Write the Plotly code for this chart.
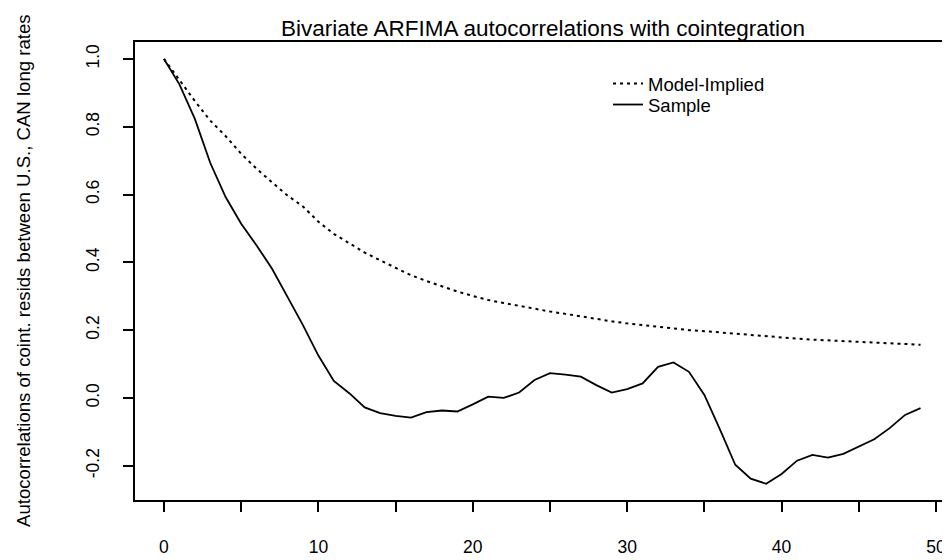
import plotly.graph_objects as go

lags = list(range(50))
model_implied = [1.0, 0.937, 0.876, 0.818, 0.772, 0.720, 0.676, 0.636, 0.597, 0.565,
                 0.520, 0.484, 0.457, 0.429, 0.406, 0.383, 0.362, 0.345, 0.329, 0.314,
                 0.301, 0.289, 0.280, 0.271, 0.264, 0.255, 0.248, 0.240, 0.232, 0.226,
                 0.220, 0.215, 0.209, 0.204, 0.200, 0.197, 0.193, 0.189, 0.185, 0.181,
                 0.178, 0.175, 0.172, 0.170, 0.167, 0.165, 0.163, 0.161, 0.159, 0.157]
sample = [1.0, 0.925, 0.823, 0.693, 0.592, 0.514, 0.450, 0.381, 0.298, 0.215,
          0.125, 0.050, 0.014, -0.028, -0.045, -0.053, -0.058, -0.042, -0.037, -0.040,
          -0.019, 0.004, 0.000, 0.016, 0.053, 0.073, 0.069, 0.063, 0.038, 0.016,
          0.026, 0.043, 0.092, 0.105, 0.077, 0.009, -0.092, -0.197, -0.238, -0.253,
          -0.224, -0.185, -0.168, -0.176, -0.165, -0.143, -0.122, -0.089, -0.050, -0.030]

x_tickvals = [0, 5, 10, 15, 20, 25, 30, 35, 40, 45, 50]
x_ticktext = ["0", "", "10", "", "20", "", "30", "", "40", "", "50"]
y_tickvals = [-0.2, 0.0, 0.2, 0.4, 0.6, 0.8, 1.0]
y_ticktext = ["-0.2", "0.0", "0.2", "0.4", "0.6", "0.8", "1.0"]

title_text = "Bivariate ARFIMA autocorrelations with cointegration"
ytitle_text = "Autocorrelations of coint. resids between U.S., CAN long rates"

FONT = "Liberation Sans, Arial, Helvetica, sans-serif"

# The page body has an 8px default margin; size the figure so it fits the window.
OFF = 8
W, H = 950 - OFF, 560 - OFF
L, R, T, B = 135 - OFF, 1, 42 - OFF, 60
PW, PH = W - L - R, H - T - B

fig = go.Figure()
fig.add_trace(go.Scatter(x=lags, y=model_implied, mode="lines", name="Model-Implied",
                         legend="legend",
                         line=dict(color="black", width=2, dash="3px,4px")))
fig.add_trace(go.Scatter(x=lags, y=sample, mode="lines", name="Sample",
                         legend="legend2",
                         line=dict(color="black", width=1.8)))

leg_common = dict(xanchor="left", yanchor="middle", bgcolor="rgba(0,0,0,0)",
                  borderwidth=0, font=dict(size=18.5, family=FONT, color="black"))

fig.update_layout(
    template="none",
    width=W, height=H,
    margin=dict(l=L, r=R, t=T, b=B, pad=0, autoexpand=False),
    paper_bgcolor="white", plot_bgcolor="white",
    font=dict(family=FONT, color="black", size=17.5),
    showlegend=True,
    legend=dict(x=(608 - 135) / PW, y=1 - (84 - 42) / PH, **leg_common),
    legend2=dict(x=(608 - 135) / PW, y=1 - (105 - 42) / PH, **leg_common),
    title=dict(text=title_text, x=(543 - OFF) / W, xanchor="center", xref="container",
               y=1 - (28 - OFF) / H, yanchor="middle", yref="container",
               pad=dict(t=0, b=0, l=0, r=0),
               font=dict(size=22.5, family=FONT, color="black")),
    annotations=[dict(text=ytitle_text, textangle=-90, xref="paper", yref="paper",
                      x=(23 - 135) / PW, y=1 - (271 - 42) / PH, xanchor="center",
                      yanchor="middle", showarrow=False,
                      font=dict(size=18.6, family=FONT, color="black"))],
)
fig.update_xaxes(range=[-1.877, -1.877 + PW / 15.44], tickvals=x_tickvals,
                 ticktext=x_ticktext, ticks="outside", ticklen=10, tickwidth=1.5,
                 tickcolor="black", showline=True, linecolor="black", linewidth=1.5,
                 mirror=True, showgrid=False, zeroline=False, ticklabelstandoff=20,
                 automargin=False)
fig.update_yaxes(range=[-0.301, 1.050], tickvals=y_tickvals, ticktext=y_ticktext,
                 ticks="outside", ticklen=10, tickwidth=1.5, tickcolor="black",
                 showline=True, linecolor="black", linewidth=1.5, mirror=True,
                 showgrid=False, zeroline=False, tickangle=-90, ticklabelstandoff=17,
                 automargin=False)

fig.write_html("out.html")
